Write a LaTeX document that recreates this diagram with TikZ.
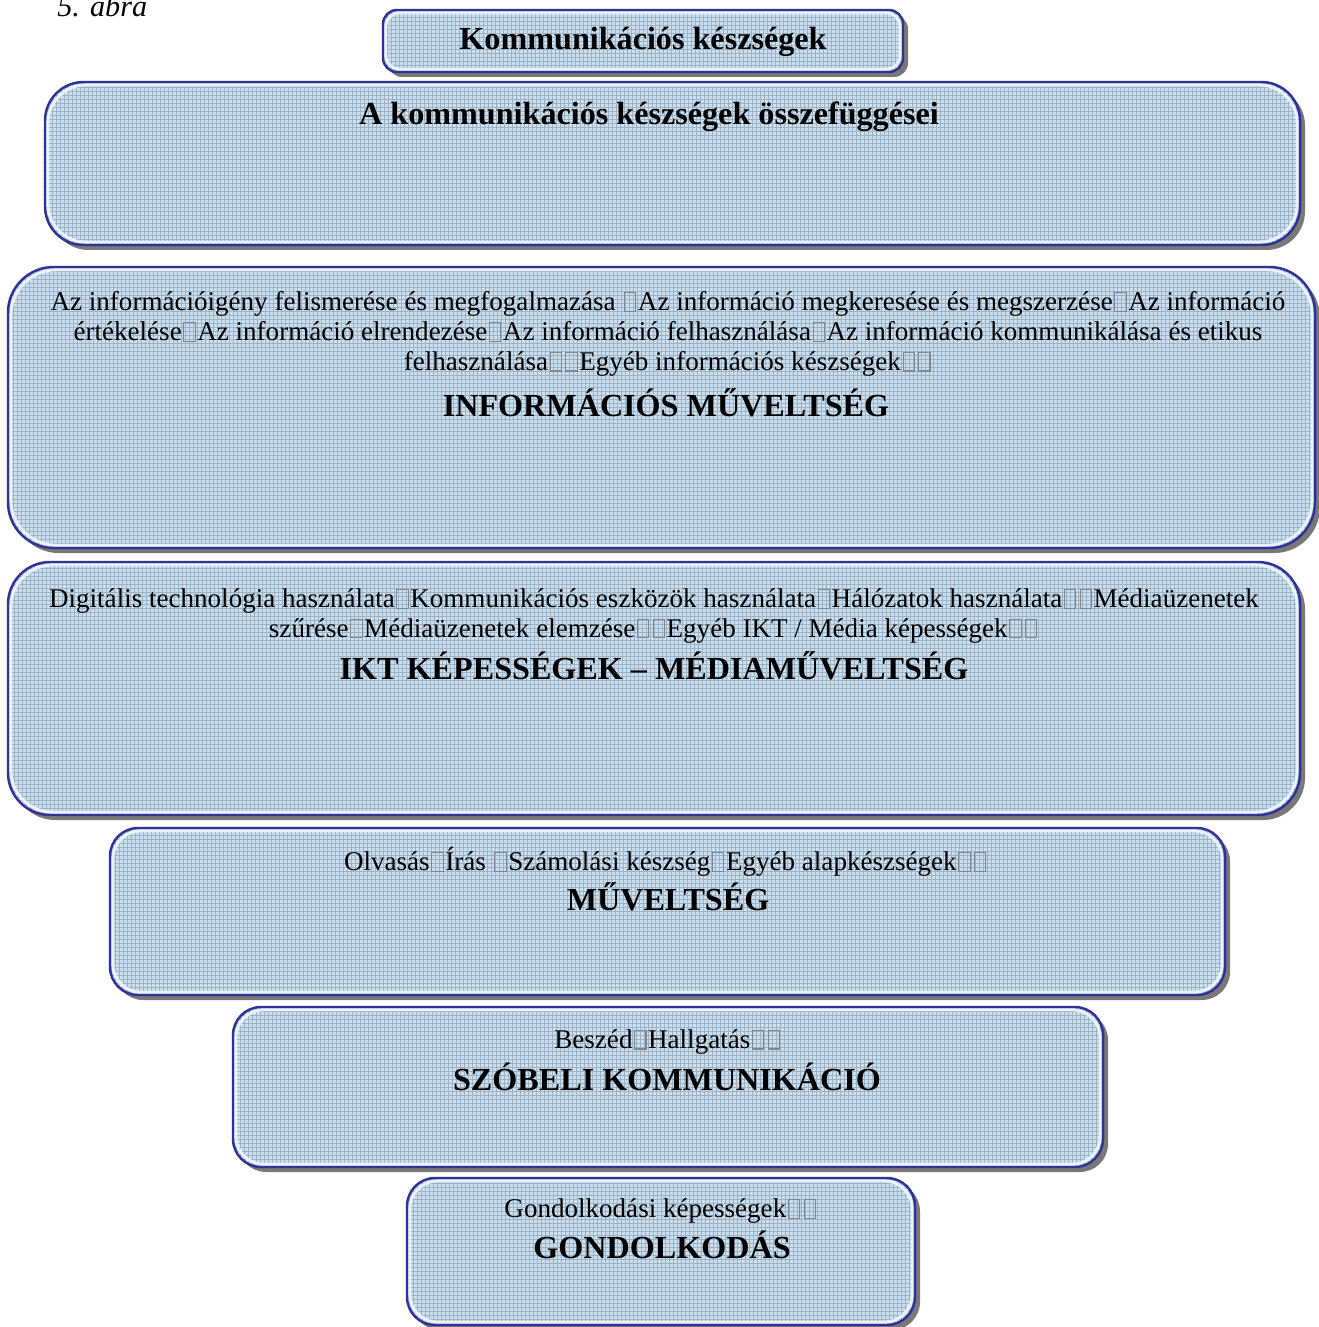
\documentclass[tikz,border=0pt]{standalone}
\usepackage{fontspec}
\setmainfont{Liberation Serif}
\usetikzlibrary{shadows}

\definecolor{boxfill}{RGB}{200,224,242}
\definecolor{boxline}{RGB}{50,50,150}
\definecolor{gridc}{RGB}{110,122,135}
\definecolor{shadowc}{RGB}{120,120,120}
\definecolor{glowc}{RGB}{232,244,252}
\definecolor{sqc}{RGB}{130,135,140}

% empty glyph square, as printed in the running text
\newcommand\gb{\kern0.06em{\color{sqc}\fboxsep=0pt\fboxrule=0.6pt\fbox{\rule{0pt}{0.64em}\hspace{0.38em}}}\kern0.06em}

\tikzset{
  panel/.style={
    draw=boxline, line width=1.4pt, fill=boxfill, rounded corners=#1,
    inner sep=0pt, outer sep=0pt,
    drop shadow={shadow xshift=0.1cm, shadow yshift=-0.1cm, fill=shadowc, opacity=1},
    path picture={
      \draw[gridc, line width=0.3pt, opacity=0.45]
        ([shift={(-2pt,-2pt)}]path picture bounding box.south west) grid[step=0.08cm]
        (path picture bounding box.north east);
      \draw[glowc, line width=1.6pt, rounded corners=#1]
        ([shift={(1.6pt,-1.6pt)}]path picture bounding box.north west) rectangle
        ([shift={(-1.6pt,1.6pt)}]path picture bounding box.south east);
    }},
  bodytext/.style={align=center, inner sep=0pt, font=\fontsize{15.4pt}{17pt}\selectfont},
  headtext/.style={align=center, inner sep=0pt, font=\fontsize{18.3pt}{21pt}\selectfont\bfseries},
  toptext/.style={align=center, inner sep=0pt, font=\fontsize{18.3pt}{21pt}\selectfont\bfseries},
}

\begin{document}
\begin{tikzpicture}[x=0.02cm, y=-0.02cm]
\useasboundingbox (0,0) rectangle (1318,1327);

% caption
\node[anchor=base west, inner sep=0pt, font=\fontsize{17.2pt}{20pt}\selectfont\itshape] (cap) at (57,17) {5. ábra};

% panels (centre, width and height in px)
\node[panel=8pt,  minimum width={520*0.02cm},  minimum height={62*0.02cm}]  (p1) at (643,41) {};
\node[panel=22pt, minimum width={1255*0.02cm}, minimum height={163*0.02cm}] (p2) at (672.5,163.5) {};
\node[panel=26pt, minimum width={1307*0.02cm}, minimum height={281*0.02cm}] (p3) at (661.5,407.5) {};
\node[panel=24pt, minimum width={1292*0.02cm}, minimum height={253*0.02cm}] (p4) at (654,688.5) {};
\node[panel=16pt, minimum width={1115*0.02cm}, minimum height={167*0.02cm}] (p5) at (667.5,911.5) {};
\node[panel=16pt, minimum width={870*0.02cm},  minimum height={160*0.02cm}] (p6) at (668,1087) {};
\node[panel=16pt, minimum width={508*0.02cm},  minimum height={147*0.02cm}] (p7) at (661,1251.5) {};

% texts
\node[toptext] (t1) at (643,42) {Kommunikációs készségek};
\node[toptext] (t2) at (649,117) {A kommunikációs készségek összefüggései};

\node[bodytext] (t3a) at (668,334) {Az információigény felismerése és megfogalmazása \gb Az információ megkeresése és megszerzése\gb Az információ\\
értékelése\gb Az információ elrendezése\gb Az információ felhasználása\gb Az információ kommunikálása és etikus\\
felhasználása\gb\gb Egyéb információs készségek\gb\gb};
\node[headtext] (t3b) at (666,403) {INFORMÁCIÓS MŰVELTSÉG};

\node[bodytext] (t4a) at (654,616) {Digitális technológia használata\gb Kommunikációs eszközök használata\gb Hálózatok használata\gb\gb Médiaüzenetek\\
szűrése\gb Médiaüzenetek elemzése\gb\gb Egyéb IKT / Média képességek\gb\gb};
\node[headtext] (t4b) at (654,666) {IKT KÉPESSÉGEK – MÉDIAMŰVELTSÉG};

\node[bodytext] (t5a) at (666,862) {Olvasás\gb Írás \gb Számolási készség\gb Egyéb alapkészségek\gb\gb};
\node[headtext] (t5b) at (668,897) {MŰVELTSÉG};

\node[bodytext] (t6a) at (668,1042) {Beszéd\gb Hallgatás\gb\gb};
\node[headtext] (t6b) at (667,1077) {SZÓBELI KOMMUNIKÁCIÓ};

\node[bodytext] (t7a) at (661,1211) {Gondolkodási képességek\gb\gb};
\node[headtext] (t7b) at (662,1245) {GONDOLKODÁS};
\end{tikzpicture}
\end{document}
